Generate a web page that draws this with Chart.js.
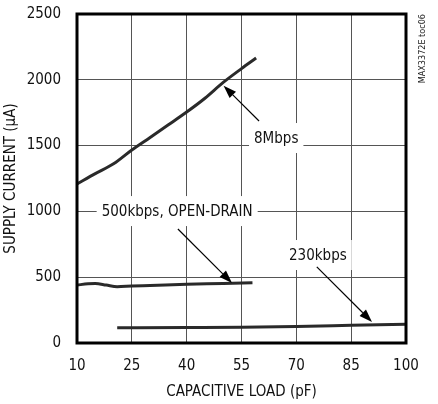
<!DOCTYPE html>
<html><head><meta charset="utf-8">
<script src="https://cdn.jsdelivr.net/npm/chart.js@4"></script>
<style>html,body{margin:0;padding:0;background:#fff}#wrap{width:438px;height:404px}</style>
</head><body><div id="wrap"><canvas id="c" width="438" height="404"></canvas></div>
<script>
const xTicks = [10, 25, 40, 55, 70, 85, 100];
const yTicks = [0, 500, 1000, 1500, 2000, 2500];
const x8M = [10, 15, 20, 25, 30, 35, 40, 45, 50, 55, 59];
const y8M = [1208, 1287, 1362, 1467, 1562, 1658, 1755, 1860, 1980, 2085, 2165];
const x500k = [10, 13, 15, 18, 21, 25, 30, 40, 50, 58];
const y500k = [440, 450, 452, 440, 428, 433, 437, 446, 452, 458];
const x230k = [21, 40, 55, 70, 85, 100];
const y230k = [116, 118, 120, 126, 134, 142];
const labels = ["8Mbps", "500kbps, OPEN-DRAIN", "230kbps"];
// annotation anchors in data units: label centre, arrow start, arrow tip
const labelX = [64.5, 37.4, 75.9];
const labelY = [1550, 995, 661];
const arrowFromX = [59.8, 37.6, 75.6];
const arrowFromY = [1687, 866, 578];
const arrowToX = [50.1, 52.4, 90.7];
const arrowToY = [1955, 456, 160];

const FONT = "'Liberation Sans Narrow','DejaVu Sans Condensed',sans-serif";
const toPts = (xs, ys) => xs.map((x, i) => ({x, y: ys[i]}));

const annot = {
  id: 'annot',
  beforeDatasetsDraw(chart) {
    const {ctx, scales: {x, y}} = chart;
    ctx.save();
    ctx.font = '15px ' + FONT;
    labels.forEach((t, i) => {
      const cx = x.getPixelForValue(labelX[i]), cy = y.getPixelForValue(labelY[i]);
      const w = ctx.measureText(t).width + 10;
      ctx.fillStyle = '#fff';
      ctx.fillRect(cx - w / 2, cy - 16, w, 30);
      ctx.fillStyle = '#111';
      ctx.textAlign = 'center'; ctx.textBaseline = 'middle';
      ctx.fillText(t, cx, cy);
    });
    ctx.restore();
  },
  afterDatasetsDraw(chart) {
    const {ctx, scales: {x, y}, chartArea: a} = chart;
    ctx.save();
    ctx.strokeStyle = '#000'; ctx.fillStyle = '#000'; ctx.lineWidth = 1.2;
    labels.forEach((t, i) => {
      const x0 = x.getPixelForValue(arrowFromX[i]), y0 = y.getPixelForValue(arrowFromY[i]);
      const x1 = x.getPixelForValue(arrowToX[i]), y1 = y.getPixelForValue(arrowToY[i]);
      const ang = Math.atan2(y1 - y0, x1 - x0);
      const L = 13, W = 4.5;
      const bx = x1 - L * Math.cos(ang), by = y1 - L * Math.sin(ang);
      ctx.beginPath(); ctx.moveTo(x0, y0); ctx.lineTo(bx, by); ctx.stroke();
      ctx.beginPath();
      ctx.moveTo(x1, y1);
      ctx.lineTo(bx + W * Math.sin(ang), by - W * Math.cos(ang));
      ctx.lineTo(bx - W * Math.sin(ang), by + W * Math.cos(ang));
      ctx.closePath(); ctx.fill();
    });
    ctx.lineWidth = 3;
    ctx.strokeRect(a.left, a.top, a.right - a.left, a.bottom - a.top);
    ctx.translate(423, a.top);
    ctx.rotate(-Math.PI / 2);
    ctx.font = '9px ' + FONT;
    ctx.textAlign = 'right'; ctx.textBaseline = 'middle';
    ctx.fillStyle = '#222';
    ctx.fillText('MAX3372E toc06', 0, 0);
    ctx.restore();
  }
};

const ds = (xs, ys) => ({
  data: toPts(xs, ys), borderColor: '#2a2a2a', borderWidth: 3, pointRadius: 0,
  fill: false, cubicInterpolationMode: 'monotone'
});

new Chart(document.getElementById('c'), {
  type: 'line',
  data: {datasets: [ds(x8M, y8M), ds(x500k, y500k), ds(x230k, y230k)]},
  options: {
    responsive: false, animation: false, devicePixelRatio: 1,
    layout: {padding: {top: 14, right: 32, left: 0, bottom: 0}},
    plugins: {legend: {display: false}, tooltip: {enabled: false}},
    scales: {
      x: {
        type: 'linear', min: 10, max: 100,
        afterBuildTicks: s => { s.ticks = xTicks.map(v => ({value: v})); },
        afterFit: s => { s.height = 61; s.paddingLeft = 0; s.paddingRight = 0; },
        grid: {color: '#555', lineWidth: 1, drawTicks: false},
        border: {display: false},
        ticks: {color: '#111', font: {size: 15, family: FONT}, padding: 14, maxRotation: 0, callback: v => String(v)},
        title: {display: true, text: 'CAPACITIVE LOAD (pF)', color: '#111', font: {size: 15, family: FONT}, padding: {top: 4, bottom: 3}}
      },
      y: {
        min: 0, max: 2500,
        afterBuildTicks: s => { s.ticks = yTicks.map(v => ({value: v})); },
        afterFit: s => { s.width = 77; s.paddingTop = 0; s.paddingBottom = 0; },
        grid: {color: '#555', lineWidth: 1, drawTicks: false},
        border: {display: false},
        ticks: {color: '#111', font: {size: 15, family: FONT}, padding: 16, callback: v => String(v)},
        title: {display: true, text: 'SUPPLY CURRENT (μA)', color: '#111', font: {size: 15, family: FONT}, padding: {top: 2, bottom: 2}}
      }
    }
  },
  plugins: [annot]
});
</script></body></html>
